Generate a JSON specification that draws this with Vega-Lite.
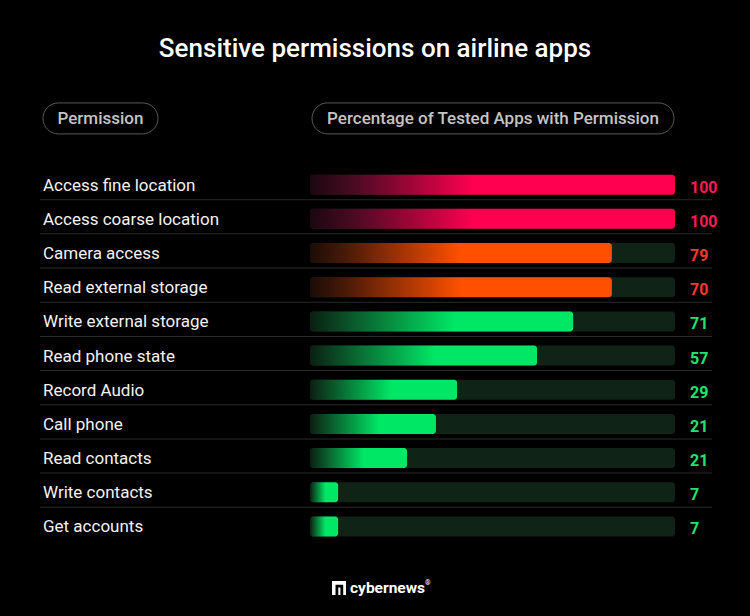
{
  "$schema": "https://vega.github.io/schema/vega-lite/v6.json",
  "width": 750,
  "height": 616,
  "autosize": {"type": "fit", "contains": "padding"},
  "padding": {"top": 36, "left": 0, "right": 0, "bottom": 0},
  "background": "#000000",
  "title": {"text": "Sensitive permissions on airline apps", "fontSize": 26, "fontWeight": 500, "font": "Roboto", "color": "#ffffff", "anchor": "middle", "offset": 20},
  "config": {"view": {"stroke": null}, "font": "Roboto"},
  "data": {"values": [
    {"permission": "Access fine location", "row": 1, "value": 100, "bar": 100, "level": "high"},
    {"permission": "Access coarse location", "row": 2, "value": 100, "bar": 100, "level": "high"},
    {"permission": "Camera access", "row": 3, "value": 79, "bar": 82.7, "level": "mid"},
    {"permission": "Read external storage", "row": 4, "value": 70, "bar": 82.7, "level": "mid"},
    {"permission": "Write external storage", "row": 5, "value": 71, "bar": 72.1, "level": "low"},
    {"permission": "Read phone state", "row": 6, "value": 57, "bar": 62.2, "level": "low"},
    {"permission": "Record Audio", "row": 7, "value": 29, "bar": 40.3, "level": "low"},
    {"permission": "Call phone", "row": 8, "value": 21, "bar": 34.5, "level": "low"},
    {"permission": "Read contacts", "row": 9, "value": 21, "bar": 26.6, "level": "low"},
    {"permission": "Write contacts", "row": 10, "value": 7, "bar": 7.7, "level": "low"},
    {"permission": "Get accounts", "row": 11, "value": 7, "bar": 7.7, "level": "low"}
  ]},
  "layer": [
    {
      "transform": [{"filter": "datum.row < 11"}],
      "mark": {"type": "tick", "orient": "horizontal", "color": "#2a2a2a", "thickness": 1, "size": 672, "yOffset": 15, "opacity": 1},
      "encoding": {
        "x": {"datum": 18.08, "type": "quantitative", "scale": {"domain": [-84.93, 120.55], "nice": false, "zero": false}, "axis": null},
        "y": {"field": "row", "type": "quantitative", "scale": {"domain": [-1.858, 13.474], "nice": false, "zero": false, "reverse": true}, "axis": null}
      }
    },
    {
      "mark": {"type": "bar", "orient": "horizontal", "size": 20, "cornerRadius": 3, "color": "#0f2316"},
      "encoding": {
        "x": {"datum": 100, "type": "quantitative", "scale": {"domain": [-84.93, 120.55], "nice": false, "zero": false}, "axis": null},
        "y": {"field": "row", "type": "quantitative", "scale": {"domain": [-1.858, 13.474], "nice": false, "zero": false, "reverse": true}, "axis": null}
      }
    },
    {
      "transform": [{"filter": "datum.level == 'high'"}],
      "mark": {"type": "bar", "orient": "horizontal", "size": 20, "cornerRadius": 3,
        "color": {"gradient": "linear", "x1": 0, "x2": 1, "y1": 0, "y2": 0, "stops": [{"offset": 0, "color": "#1c0710"}, {"offset": 0.12, "color": "#4a0a22"}, {"offset": 0.45, "color": "#ff0050"}, {"offset": 1, "color": "#ff0050"}]}},
      "encoding": {
        "x": {"field": "bar", "type": "quantitative", "stack": null, "scale": {"domain": [-84.93, 120.55], "nice": false, "zero": false}, "axis": null},
        "y": {"field": "row", "type": "quantitative", "scale": {"domain": [-1.858, 13.474], "nice": false, "zero": false, "reverse": true}, "axis": null}
      }
    },
    {
      "transform": [{"filter": "datum.level == 'mid'"}],
      "mark": {"type": "bar", "orient": "horizontal", "size": 20, "cornerRadius": 3,
        "color": {"gradient": "linear", "x1": 0, "x2": 1, "y1": 0, "y2": 0, "stops": [{"offset": 0, "color": "#1c0c06"}, {"offset": 0.12, "color": "#4a1a08"}, {"offset": 0.5, "color": "#ff5000"}, {"offset": 1, "color": "#ff5000"}]}},
      "encoding": {
        "x": {"field": "bar", "type": "quantitative", "stack": null, "scale": {"domain": [-84.93, 120.55], "nice": false, "zero": false}, "axis": null},
        "y": {"field": "row", "type": "quantitative", "scale": {"domain": [-1.858, 13.474], "nice": false, "zero": false, "reverse": true}, "axis": null}
      }
    },
    {
      "transform": [{"filter": "datum.level == 'low'"}],
      "mark": {"type": "bar", "orient": "horizontal", "size": 20, "cornerRadius": 3,
        "color": {"gradient": "linear", "x1": 0, "x2": 1, "y1": 0, "y2": 0, "stops": [{"offset": 0, "color": "#0a1f12"}, {"offset": 0.12, "color": "#0b4a25"}, {"offset": 0.55, "color": "#00e765"}, {"offset": 1, "color": "#00e765"}]}},
      "encoding": {
        "x": {"field": "bar", "type": "quantitative", "stack": null, "scale": {"domain": [-84.93, 120.55], "nice": false, "zero": false}, "axis": null},
        "y": {"field": "row", "type": "quantitative", "scale": {"domain": [-1.858, 13.474], "nice": false, "zero": false, "reverse": true}, "axis": null}
      }
    },
    {
      "mark": {"type": "text", "align": "left", "baseline": "middle", "fontSize": 17, "color": "#f2f2f2", "font": "Roboto", "dy": 1},
      "encoding": {
        "x": {"datum": -73.15, "type": "quantitative", "scale": {"domain": [-84.93, 120.55], "nice": false, "zero": false}, "axis": null},
        "y": {"field": "row", "type": "quantitative", "scale": {"domain": [-1.858, 13.474], "nice": false, "zero": false, "reverse": true}, "axis": null},
        "text": {"field": "permission"}
      }
    },
    {
      "mark": {"type": "text", "align": "left", "baseline": "middle", "fontSize": 16, "fontWeight": "bold", "font": "Roboto", "dy": 3},
      "encoding": {
        "x": {"datum": 104.1, "type": "quantitative", "scale": {"domain": [-84.93, 120.55], "nice": false, "zero": false}, "axis": null},
        "y": {"field": "row", "type": "quantitative", "scale": {"domain": [-1.858, 13.474], "nice": false, "zero": false, "reverse": true}, "axis": null},
        "text": {"field": "value"},
        "color": {"field": "level", "type": "nominal", "scale": {"domain": ["high", "mid", "low"], "range": ["#ff1a55", "#f23a2a", "#1fe36c"]}, "legend": null}
      }
    },
    {
      "data": {"values": [{"header": "Permission"}]},
      "mark": {"type": "point", "filled": false, "opacity": 1, "stroke": "#5a5a5a", "strokeWidth": 1, "size": 13225,
        "shape": "M -0.7304 -0.2696 L 0.7304 -0.2696 A 0.2696 0.2696 0 0 1 0.7304 0.2696 L -0.7304 0.2696 A 0.2696 0.2696 0 0 1 -0.7304 -0.2696 Z"},
      "encoding": {
        "x": {"datum": -57.4, "type": "quantitative", "scale": {"domain": [-84.93, 120.55], "nice": false, "zero": false}, "axis": null},
        "y": {"datum": -0.939, "type": "quantitative", "scale": {"domain": [-1.858, 13.474], "nice": false, "zero": false, "reverse": true}, "axis": null}
      }
    },
    {
      "data": {"values": [{"header": "Percentage of Tested Apps with Permission"}]},
      "mark": {"type": "point", "filled": false, "opacity": 1, "stroke": "#5a5a5a", "strokeWidth": 1, "size": 131044,
        "shape": "M -0.9144 -0.0856 L 0.9144 -0.0856 A 0.0856 0.0856 0 0 1 0.9144 0.0856 L -0.9144 0.0856 A 0.0856 0.0856 0 0 1 -0.9144 -0.0856 Z"},
      "encoding": {
        "x": {"datum": 50.14, "type": "quantitative", "scale": {"domain": [-84.93, 120.55], "nice": false, "zero": false}, "axis": null},
        "y": {"datum": -0.939, "type": "quantitative", "scale": {"domain": [-1.858, 13.474], "nice": false, "zero": false, "reverse": true}, "axis": null}
      }
    },
    {
      "data": {"values": [{"header": "Permission"}]},
      "mark": {"type": "text", "align": "center", "baseline": "middle", "fontSize": 17, "fontWeight": 500, "color": "#c4c4c4", "font": "Roboto", "dy": 1},
      "encoding": {
        "x": {"datum": -57.4, "type": "quantitative", "scale": {"domain": [-84.93, 120.55], "nice": false, "zero": false}, "axis": null},
        "y": {"datum": -0.939, "type": "quantitative", "scale": {"domain": [-1.858, 13.474], "nice": false, "zero": false, "reverse": true}, "axis": null},
        "text": {"field": "header"}
      }
    },
    {
      "data": {"values": [{"header": "Percentage of Tested Apps with Permission"}]},
      "mark": {"type": "text", "align": "center", "baseline": "middle", "fontSize": 17, "fontWeight": 500, "color": "#c4c4c4", "font": "Roboto", "dy": 1},
      "encoding": {
        "x": {"datum": 50.14, "type": "quantitative", "scale": {"domain": [-84.93, 120.55], "nice": false, "zero": false}, "axis": null},
        "y": {"datum": -0.939, "type": "quantitative", "scale": {"domain": [-1.858, 13.474], "nice": false, "zero": false, "reverse": true}, "axis": null},
        "text": {"field": "header"}
      }
    },
    {
      "data": {"values": [{"brand": "cybernews"}]},
      "mark": {"type": "point", "filled": true, "opacity": 1, "color": "#ffffff", "size": 196,
        "shape": "M -1 -1 L 1 -1 L 1 1 L -1 1 Z M -0.5 -0.45 L -0.5 1 L -0.1 1 L -0.1 -0.05 L 0.2 -0.05 L 0.2 1 L 0.6 1 L 0.6 -0.45 Z"},
      "encoding": {
        "x": {"datum": 7.95, "type": "quantitative", "scale": {"domain": [-84.93, 120.55], "nice": false, "zero": false}, "axis": null},
        "y": {"datum": 12.8, "type": "quantitative", "scale": {"domain": [-1.858, 13.474], "nice": false, "zero": false, "reverse": true}, "axis": null}
      }
    },
    {
      "data": {"values": [{"brand": "cybernews"}]},
      "mark": {"type": "text", "align": "left", "baseline": "middle", "fontSize": 15.5, "fontWeight": "bold", "color": "#ffffff", "font": "Roboto"},
      "encoding": {
        "x": {"datum": 10.96, "type": "quantitative", "scale": {"domain": [-84.93, 120.55], "nice": false, "zero": false}, "axis": null},
        "y": {"datum": 12.79, "type": "quantitative", "scale": {"domain": [-1.858, 13.474], "nice": false, "zero": false, "reverse": true}, "axis": null},
        "text": {"field": "brand"}
      }
    },
    {
      "data": {"values": [{"sign": "®"}]},
      "mark": {"type": "text", "align": "left", "baseline": "middle", "fontSize": 7, "fontWeight": "bold", "color": "#ffffff", "font": "Roboto"},
      "encoding": {
        "x": {"datum": 31.5, "type": "quantitative", "scale": {"domain": [-84.93, 120.55], "nice": false, "zero": false}, "axis": null},
        "y": {"datum": 12.66, "type": "quantitative", "scale": {"domain": [-1.858, 13.474], "nice": false, "zero": false, "reverse": true}, "axis": null},
        "text": {"field": "sign"}
      }
    }
  ]
}
